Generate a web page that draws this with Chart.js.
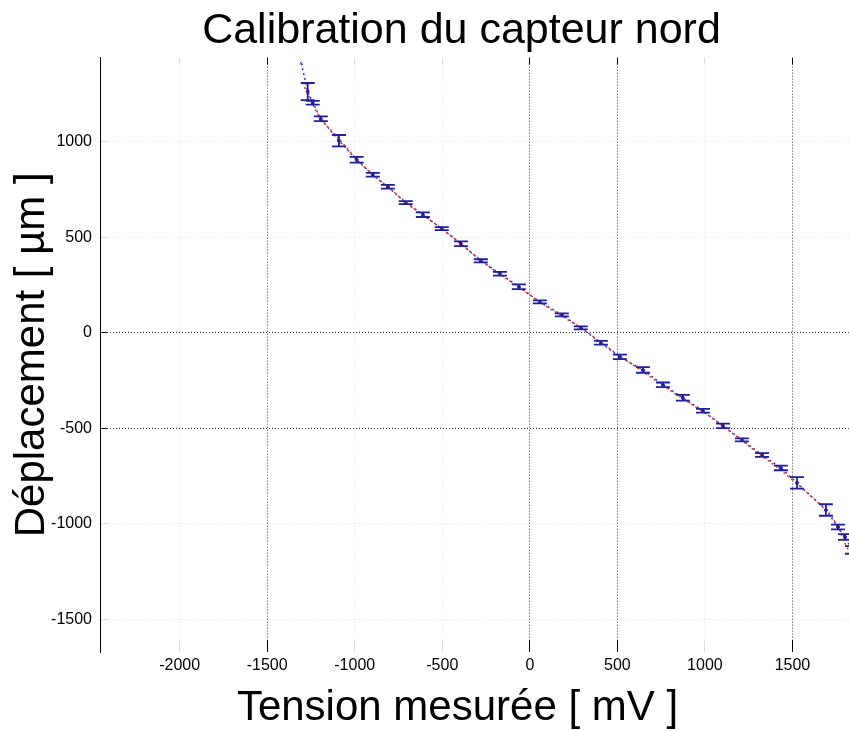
<!DOCTYPE html>
<html lang="fr">
<head>
<meta charset="utf-8">
<title>Calibration du capteur nord</title>
<script src="https://cdn.jsdelivr.net/npm/chart.js@4.4.1/dist/chart.umd.min.js"></script>
<style>
    html, body { margin: 0; padding: 0; background: #fff; overflow: hidden; }
    canvas { display: block; }
</style>
</head>
<body>
<canvas id="calib-chart" width="849" height="731"></canvas>
<script>
// mesures (points bleus + barres d'erreur)
const tensionMv = [-1305, -1269, -1240, -1194, -1090, -989, -897, -811, -709, -611, -503, -394, -280, -171, -63,
    57, 183, 291, 406, 514, 646, 760, 874, 989, 1103, 1211, 1326, 1434, 1526, 1691, 1760, 1800, 1840];
const deplacementUm = [1410, 1262, 1204, 1120, 1005, 906, 827, 764, 681, 618, 545, 466, 377, 309, 241,
    162, 94, 26, -52, -126, -194, -272, -340, -408, -487, -560, -639, -707, -785, -927, -1016, -1068, -1136];
const erreurUm = [0, 45, 10, 12, 30, 15, 10, 10, 8, 12, 8, 12, 8, 10, 12,
    8, 8, 8, 10, 12, 15, 12, 15, 10, 12, 8, 10, 12, 30, 30, 12, 15, 20];

// courbe d'ajustement (pointillé rouge)
const fitTensionMv = [-1300, -1200, -1100, -1000, -900, -800, -700, -600, -500, -400, -300, -200, -100, 0,
    100, 200, 300, 400, 500, 600, 700, 800, 900, 1000, 1100, 1200, 1300, 1400, 1500, 1600, 1700, 1750, 1800, 1850];
const fitDeplacementUm = [1310, 1130, 1025, 920, 830, 755, 678, 610, 543, 470, 395, 325, 262, 198,
    135, 78, 20, -45, -112, -175, -238, -300, -360, -420, -486, -555, -628, -695, -770, -850, -935, -1000, -1100, -1190];

const xTicks = [-2000, -1500, -1000, -500, 0, 500, 1000, 1500];
const yTicks = [-1500, -1000, -500, 0, 500, 1000];
const xGridMarked = [-1500, 0, 500, 1500];
const yGridMarked = [0, -500];

Chart.defaults.font.family = '"Liberation Sans", Arial, sans-serif';
Chart.defaults.color = '#000';

const faint = 'rgba(0, 0, 0, 0.10)';
const gridColor = marked => c => (c.tick && marked.includes(c.tick.value)) ? '#3a3a3a' : faint;
const tickMarkColor = marked => c => (c.tick && marked.includes(c.tick.value)) ? '#000' : faint;

// barres d'erreur verticales avec chapeaux
const errorBars = {
    id: 'errorBars',
    afterDatasetsDraw(chart) {
        const { ctx, chartArea, scales: { x, y } } = chart;
        ctx.save();
        ctx.beginPath();
        ctx.rect(chartArea.left, chartArea.top, chartArea.right - chartArea.left, chartArea.bottom - chartArea.top);
        ctx.clip();
        ctx.strokeStyle = '#1f1fa0';
        ctx.lineWidth = 1.8;
        tensionMv.forEach((v, i) => {
            const err = erreurUm[i];
            if (!err) return;
            const px = x.getPixelForValue(v);
            const top = y.getPixelForValue(deplacementUm[i] + err);
            const bottom = y.getPixelForValue(deplacementUm[i] - err);
            ctx.beginPath();
            ctx.moveTo(px, top);
            ctx.lineTo(px, bottom);
            ctx.moveTo(px - 7, top);
            ctx.lineTo(px + 7, top);
            ctx.moveTo(px - 7, bottom);
            ctx.lineTo(px + 7, bottom);
            ctx.stroke();
        });
        ctx.restore();
    }
};

// le titre n'est pas centré sur la toile dans l'original
const titleShift = {
    id: 'titleShift',
    afterLayout(chart) {
        const t = chart.titleBlock;
        if (t) {
            t.left += 37;
            t.right += 37;
        }
    }
};

const xTitle = {
    id: 'xTitle',
    afterDraw(chart) {
        const { ctx, chartArea } = chart;
        ctx.save();
        ctx.font = '42px "Liberation Sans", Arial, sans-serif';
        ctx.fillStyle = '#000';
        ctx.textAlign = 'center';
        ctx.textBaseline = 'middle';
        ctx.fillText('Tension mesurée [ mV ]', (chartArea.left + chartArea.right) / 2 - 17, chartArea.bottom + 56);
        ctx.restore();
    }
};

new Chart(document.getElementById('calib-chart'), {
    type: 'scatter',
    data: {
        datasets: [
            {
                label: 'Mesures',
                data: tensionMv.map((v, i) => ({ x: v, y: deplacementUm[i] })),
                showLine: true,
                borderColor: '#3030d0',
                borderWidth: 1.5,
                borderDash: [2, 3],
                pointStyle: c => c.dataIndex === 0 ? 'crossRot' : 'circle',
                pointRadius: 1.5,
                pointBackgroundColor: '#1f1fa0',
                pointBorderColor: '#1f1fa0',
                pointBorderWidth: 1,
                order: 2
            },
            {
                label: 'Ajustement',
                data: fitTensionMv.map((v, i) => ({ x: v, y: fitDeplacementUm[i] })),
                showLine: true,
                borderColor: '#e0402c',
                borderWidth: 1.5,
                borderDash: [2, 3],
                pointRadius: 0,
                tension: 0.4,
                order: 1
            }
        ]
    },
    options: {
        responsive: false,
        animation: false,
        layout: { padding: 0, autoPadding: false },
        plugins: {
            legend: { display: false },
            tooltip: { enabled: false },
            title: {
                display: true,
                text: 'Calibration du capteur nord',
                color: '#000',
                font: { size: 43, weight: 'normal' },
                padding: { top: 5, bottom: 1 }
            }
        },
        scales: {
            x: {
                type: 'linear',
                position: 'bottom',
                min: -2455,
                max: 1823,
                afterBuildTicks: s => { s.ticks = xTicks.map(v => ({ value: v })); },
                afterFit: s => { s.height = 79; },
                border: { display: false, dash: [1, 2] },
                grid: {
                    color: gridColor(xGridMarked),
                    tickColor: tickMarkColor(xGridMarked),
                    tickLength: -12,
                    tickWidth: 1
                },
                ticks: {
                    padding: 16,
                    font: { size: 16 },
                    maxRotation: 0,
                    autoSkip: false,
                    callback: v => String(v)
                }
            },
            x2: {
                type: 'linear',
                position: 'top',
                min: -2455,
                max: 1823,
                afterBuildTicks: s => { s.ticks = xTicks.map(v => ({ value: v })); },
                afterFit: s => { s.height = 0; },
                border: { display: false },
                grid: {
                    drawOnChartArea: false,
                    tickColor: tickMarkColor(xGridMarked),
                    tickLength: -7,
                    tickWidth: 1
                },
                ticks: { display: false }
            },
            y: {
                type: 'linear',
                min: -1670,
                max: 1440,
                afterBuildTicks: s => { s.ticks = yTicks.map(v => ({ value: v })); },
                afterFit: s => { s.width = 100; },
                border: { display: true, color: '#000', width: 1, dash: [1, 2] },
                grid: {
                    color: gridColor(yGridMarked),
                    tickColor: tickMarkColor(yGridMarked),
                    tickLength: -7,
                    tickWidth: 1
                },
                ticks: {
                    padding: 15,
                    font: { size: 16 },
                    callback: v => String(v)
                },
                title: {
                    display: true,
                    text: 'Déplacement [ µm ]',
                    color: '#000',
                    font: { size: 42 },
                    padding: { top: 7, bottom: 0 }
                }
            }
        }
    },
    plugins: [errorBars, titleShift, xTitle]
});
</script>
</body>
</html>
